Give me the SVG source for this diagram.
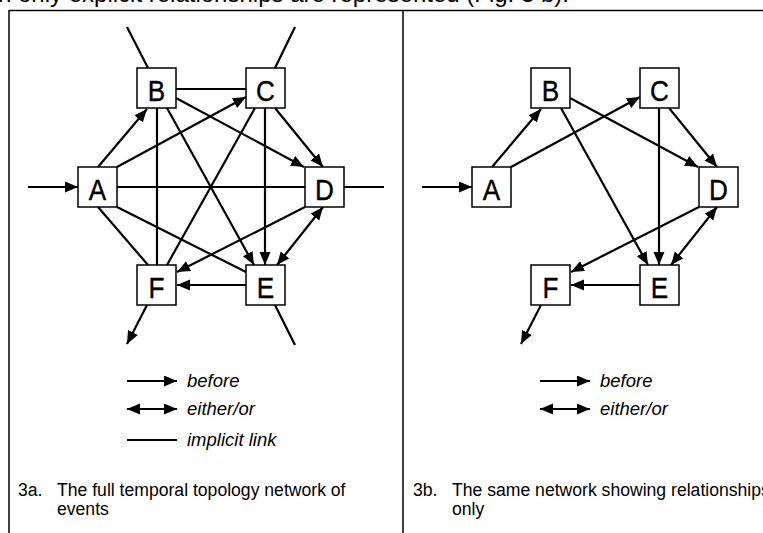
<svg xmlns="http://www.w3.org/2000/svg" width="763" height="533" viewBox="0 0 763 533">
<style>
.frame{stroke:#000;stroke-width:1.5;fill:none}
.box{fill:#fff;stroke:#000;stroke-width:1.5}
.lbl{font-family:"Liberation Sans",Arial,sans-serif;font-size:30px;text-anchor:middle;fill:#000;stroke:#000;stroke-width:0.4}
.e{stroke:#000;stroke-width:2.2;fill:none}
.a{marker-end:url(#ah)}
.d{marker-start:url(#ahs);marker-end:url(#ah)}
.leg{font-family:"Liberation Sans",Arial,sans-serif;font-size:18.5px;font-style:italic;fill:#000}
.cap{font-family:"Liberation Sans",Arial,sans-serif;font-size:17.6px;fill:#000}
.top{font-family:"Liberation Sans",Arial,sans-serif;font-size:24px;fill:#000}
</style>
<defs>
<marker id="ah" markerUnits="userSpaceOnUse" markerWidth="14" markerHeight="12" refX="13" refY="5.5" orient="auto"><path d="M0,0 L13,5.5 L0,11 z" fill="#000"/></marker>
<marker id="ahs" markerUnits="userSpaceOnUse" markerWidth="14" markerHeight="12" refX="13" refY="5.5" orient="auto-start-reverse"><path d="M0,0 L13,5.5 L0,11 z" fill="#000"/></marker>
</defs>
<rect width="763" height="533" fill="#fff"/>
<text class="top" x="-2" y="2">n only explicit relationships are represented (Fig. 3 b).</text>
<g id="frame">
<line class="frame" x1="9" y1="10.5" x2="763" y2="10.5"/>
<line class="frame" x1="9" y1="10" x2="9" y2="533"/>
<line class="frame" x1="403" y1="10" x2="403" y2="533"/>
</g>
<g id="connectors-3a">
<line class="e" x1="148" y1="68" x2="127" y2="27"/>
<line class="e" x1="275" y1="68" x2="295" y2="27"/>
<line class="e" x1="344" y1="187" x2="384" y2="187"/>
<line class="e" x1="275" y1="305" x2="295" y2="345"/>
<line class="e a" x1="147" y1="305" x2="127" y2="344"/>
<line class="e a" x1="28" y1="187" x2="78" y2="187"/>
<line class="e a" x1="98" y1="167" x2="147" y2="109"/>
<line class="e a" x1="117" y1="167" x2="246" y2="97"/>
<line class="e" x1="117" y1="187" x2="305" y2="187"/>
<line class="e" x1="98" y1="207" x2="148" y2="265"/>
<line class="e" x1="117" y1="207" x2="246" y2="272"/>
<line class="e" x1="157" y1="108" x2="157" y2="265"/>
<line class="e a" x1="167" y1="108" x2="254" y2="265"/>
<line class="e a" x1="176" y1="98" x2="304" y2="167"/>
<line class="e" x1="176" y1="89" x2="246" y2="89"/>
<line class="e a" x1="275" y1="108" x2="323" y2="167"/>
<line class="e a" x1="265" y1="108" x2="265" y2="265"/>
<line class="e" x1="255" y1="108" x2="167" y2="265"/>
<line class="e a" x1="305" y1="207" x2="177" y2="272"/>
<line class="e d" x1="277" y1="265" x2="323" y2="207"/>
<line class="e a" x1="246" y1="285" x2="177" y2="285"/>
</g>
<g id="node-A-3a"><rect class="box" x="78" y="167" width="39" height="40"/><text class="lbl" transform="translate(97.5,200) scale(0.87,1)">A</text></g>
<g id="node-B-3a"><rect class="box" x="137" y="68" width="39" height="40"/><text class="lbl" transform="translate(156.5,101) scale(0.87,1)">B</text></g>
<g id="node-C-3a"><rect class="box" x="246" y="68" width="39" height="40"/><text class="lbl" transform="translate(265.5,101) scale(0.87,1)">C</text></g>
<g id="node-D-3a"><rect class="box" x="305" y="167" width="39" height="40"/><text class="lbl" transform="translate(324.5,200) scale(0.87,1)">D</text></g>
<g id="node-E-3a"><rect class="box" x="246" y="265" width="39" height="40"/><text class="lbl" transform="translate(265.5,298) scale(0.87,1)">E</text></g>
<g id="node-F-3a"><rect class="box" x="137" y="265" width="39" height="40"/><text class="lbl" transform="translate(156.5,298) scale(0.87,1)">F</text></g>
<g id="legend-3a">
<line class="e a" x1="127" y1="381" x2="177" y2="381"/>
<text class="leg" x="187" y="387">before</text>
<line class="e d" x1="127" y1="409" x2="177" y2="409"/>
<text class="leg" x="187" y="415">either/or</text>
<line class="e" x1="127" y1="440" x2="177" y2="440"/>
<text class="leg" x="187" y="446">implicit link</text>
</g>
<g id="caption-3a">
<text class="cap" x="18" y="496">3a.</text>
<text class="cap" x="57" y="496">The full temporal topology network of</text>
<text class="cap" x="57" y="515">events</text>
</g>
<g id="connectors-3b">
<line class="e a" x1="422" y1="187" x2="472" y2="187"/>
<line class="e a" x1="492" y1="167" x2="541" y2="109"/>
<line class="e a" x1="511" y1="167" x2="640" y2="97"/>
<line class="e a" x1="570" y1="98" x2="698" y2="167"/>
<line class="e a" x1="561" y1="108" x2="648" y2="265"/>
<line class="e a" x1="669" y1="108" x2="717" y2="167"/>
<line class="e a" x1="659" y1="108" x2="659" y2="265"/>
<line class="e a" x1="699" y1="207" x2="571" y2="272"/>
<line class="e d" x1="671" y1="265" x2="717" y2="207"/>
<line class="e a" x1="640" y1="285" x2="571" y2="285"/>
<line class="e a" x1="541" y1="305" x2="521" y2="344"/>
</g>
<g id="node-A-3b"><rect class="box" x="472" y="167" width="39" height="40"/><text class="lbl" transform="translate(491.5,200) scale(0.87,1)">A</text></g>
<g id="node-B-3b"><rect class="box" x="531" y="68" width="39" height="40"/><text class="lbl" transform="translate(550.5,101) scale(0.87,1)">B</text></g>
<g id="node-C-3b"><rect class="box" x="640" y="68" width="39" height="40"/><text class="lbl" transform="translate(659.5,101) scale(0.87,1)">C</text></g>
<g id="node-D-3b"><rect class="box" x="699" y="167" width="39" height="40"/><text class="lbl" transform="translate(718.5,200) scale(0.87,1)">D</text></g>
<g id="node-E-3b"><rect class="box" x="640" y="265" width="39" height="40"/><text class="lbl" transform="translate(659.5,298) scale(0.87,1)">E</text></g>
<g id="node-F-3b"><rect class="box" x="531" y="265" width="39" height="40"/><text class="lbl" transform="translate(550.5,298) scale(0.87,1)">F</text></g>
<g id="legend-3b">
<line class="e a" x1="540" y1="381" x2="590" y2="381"/>
<text class="leg" x="600" y="387">before</text>
<line class="e d" x1="540" y1="409" x2="590" y2="409"/>
<text class="leg" x="600" y="415">either/or</text>
</g>
<g id="caption-3b">
<text class="cap" x="413" y="496">3b.</text>
<text class="cap" x="452" y="496">The same network showing relationships</text>
<text class="cap" x="452" y="515">only</text>
</g>
</svg>
